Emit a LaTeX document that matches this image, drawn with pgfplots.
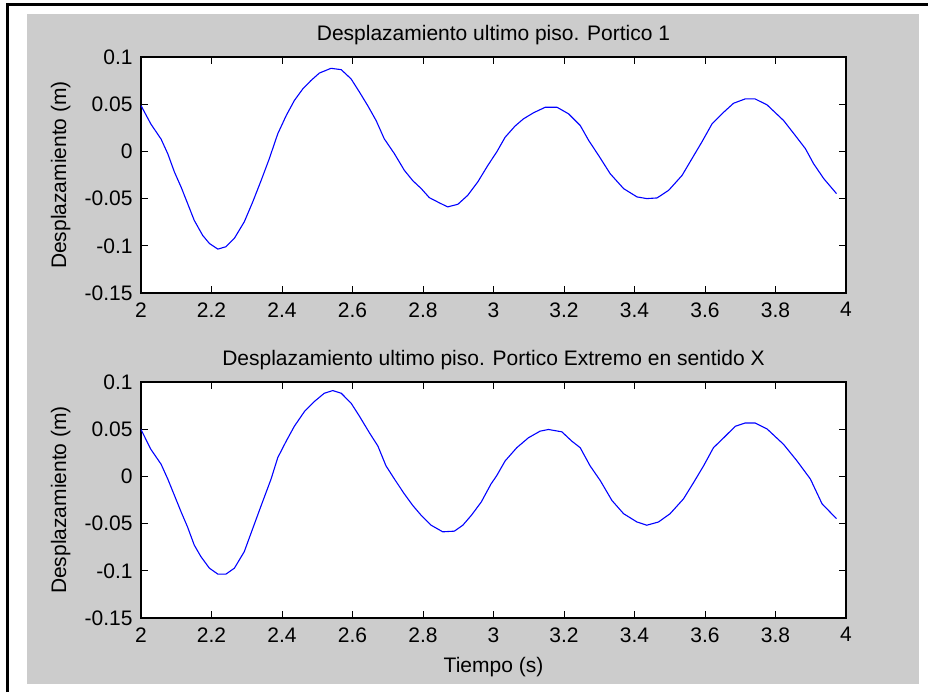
\documentclass[border=0pt]{standalone}
\usepackage{fontspec}
\setmainfont{Liberation Sans}
\usepackage{pgfplots}
\pgfplotsset{compat=1.18}
\definecolor{figgrey}{HTML}{CCCCCC}
\definecolor{mblue}{RGB}{0,0,255}
\pgfplotsset{
  mstyle/.style={
    scale only axis, width=352.5pt, height=118pt, anchor=south west,
    xmin=2, xmax=4, ymin=-0.15, ymax=0.1,
    axis background/.style={fill=white},
    font=\fontsize{10.5}{12.6}\selectfont,
    xtick={2,2.2,2.4,2.6,2.8,3,3.2,3.4,3.6,3.8,4},
    xticklabels={2,2.2,2.4,2.6,2.8,3,3.2,3.4,3.6,3.8,4},
    ytick={-0.15,-0.1,-0.05,0,0.05,0.1},
    yticklabels={-0.15,-0.1,-0.05,0,0.05,0.1},
    tick align=inside, tick pos=both, major tick length=3.5pt,
    every tick/.style={black, line width=0.5pt},
    axis line style={black, line width=0.6pt},
    xticklabel style={anchor=north, inner sep=0pt, yshift=-4.5pt},
    yticklabel style={anchor=east, inner sep=0pt, xshift=-4pt},
    every axis title/.style={at={(0.5,1)}, anchor=base, yshift=8.1pt, inner sep=0pt},
    ylabel style={at={(axis description cs:-0.114,0.5)}, anchor=center},
    xlabel style={at={(axis description cs:0.5,0)}, anchor=base, yshift=-27.3pt, inner sep=0pt},
    ylabel={Desplazamiento (m)},
  }
}
\begin{document}
\begin{tikzpicture}[x=1pt,y=1pt]
\path[use as bounding box] (0,0) rectangle (464,346);
\fill[figgrey] (13.35,4) rectangle (459.5,339);
\draw[black, line width=1.35pt] (3.6,0) -- (3.6,343.65) -- (464,343.65);
\begin{axis}[mstyle, at={(70.5pt,199.5pt)},
  title={Desplazamiento ultimo piso. Portico 1}]
\addplot[mblue, line width=0.55pt] coordinates {
(2.000,0.0486) (2.028,0.029) (2.057,0.013) (2.076,-0.0025) (2.095,-0.022)
(2.114,-0.038) (2.132,-0.055) (2.151,-0.073) (2.175,-0.089) (2.194,-0.0975)
(2.218,-0.1035) (2.241,-0.101) (2.265,-0.092) (2.293,-0.0746) (2.317,-0.0535)
(2.341,-0.0306) (2.364,-0.0077) (2.388,0.0187) (2.412,0.038) (2.435,0.0539)
(2.459,0.0662) (2.482,0.075) (2.506,0.083) (2.539,0.088) (2.568,0.0866)
(2.596,0.0768) (2.620,0.0627) (2.643,0.0486) (2.667,0.0327) (2.690,0.0134)
(2.719,-0.0025) (2.747,-0.020) (2.771,-0.031) (2.795,-0.0394) (2.818,-0.049)
(2.847,-0.0546) (2.870,-0.0588) (2.899,-0.056) (2.927,-0.0465) (2.956,-0.032)
(2.984,-0.0148) (3.009,-0.0007) (3.033,0.015) (3.061,0.0268) (3.085,0.0345)
(3.114,0.041) (3.147,0.0468) (3.180,0.0468) (3.213,0.0398) (3.246,0.0275)
(3.270,0.0116) (3.298,-0.0042) (3.331,-0.0236) (3.369,-0.0394) (3.407,-0.0482)
(3.435,-0.050) (3.464,-0.0493) (3.497,-0.0412) (3.535,-0.0254) (3.563,-0.0077)
(3.591,0.0099) (3.620,0.0292) (3.653,0.0415) (3.681,0.051) (3.714,0.0556)
(3.742,0.0556) (3.776,0.0493) (3.823,0.0327) (3.856,0.0169) (3.885,0.0028)
(3.908,-0.013) (3.937,-0.0289) (3.973,-0.0447)
};
\end{axis}
\begin{axis}[mstyle, at={(70.5pt,37pt)},
  title={Desplazamiento ultimo piso. Portico Extremo en sentido X},
  xlabel={Tiempo (s)}]
\addplot[mblue, line width=0.55pt] coordinates {
(2.000,0.0497) (2.028,0.0287) (2.057,0.0129) (2.076,-0.0028) (2.095,-0.0203)
(2.114,-0.0378) (2.132,-0.0535) (2.151,-0.0727) (2.170,-0.085) (2.194,-0.0972)
(2.218,-0.1035) (2.241,-0.1035) (2.265,-0.0972) (2.293,-0.0797) (2.317,-0.0552)
(2.341,-0.0308) (2.369,-0.0028) (2.388,0.0199) (2.412,0.0374) (2.435,0.0531)
(2.464,0.0689) (2.492,0.0794) (2.520,0.0881) (2.544,0.0909) (2.568,0.0881)
(2.596,0.0776) (2.620,0.0636) (2.648,0.0462) (2.672,0.0322) (2.695,0.0112)
(2.719,-0.0028) (2.747,-0.0185) (2.771,-0.0308) (2.795,-0.0413) (2.823,-0.0517)
(2.856,-0.0587) (2.889,-0.058) (2.913,-0.0517) (2.937,-0.0413) (2.965,-0.0273)
(2.993,-0.008) (3.009,0.0007) (3.033,0.0164) (3.066,0.0304) (3.099,0.0409)
(3.132,0.0479) (3.156,0.0497) (3.194,0.0472) (3.222,0.0374) (3.246,0.0304)
(3.274,0.0112) (3.303,-0.0045) (3.336,-0.0255) (3.369,-0.0395) (3.407,-0.0483)
(3.435,-0.0517) (3.468,-0.0483) (3.501,-0.0395) (3.539,-0.0238) (3.568,-0.0063)
(3.596,0.0112) (3.624,0.0304) (3.653,0.0409) (3.686,0.0531) (3.714,0.0566)
(3.742,0.0566) (3.776,0.0503) (3.823,0.0339) (3.861,0.0164) (3.899,-0.0028)
(3.932,-0.029) (3.973,-0.0448)
};
\end{axis}
\end{tikzpicture}
\end{document}
